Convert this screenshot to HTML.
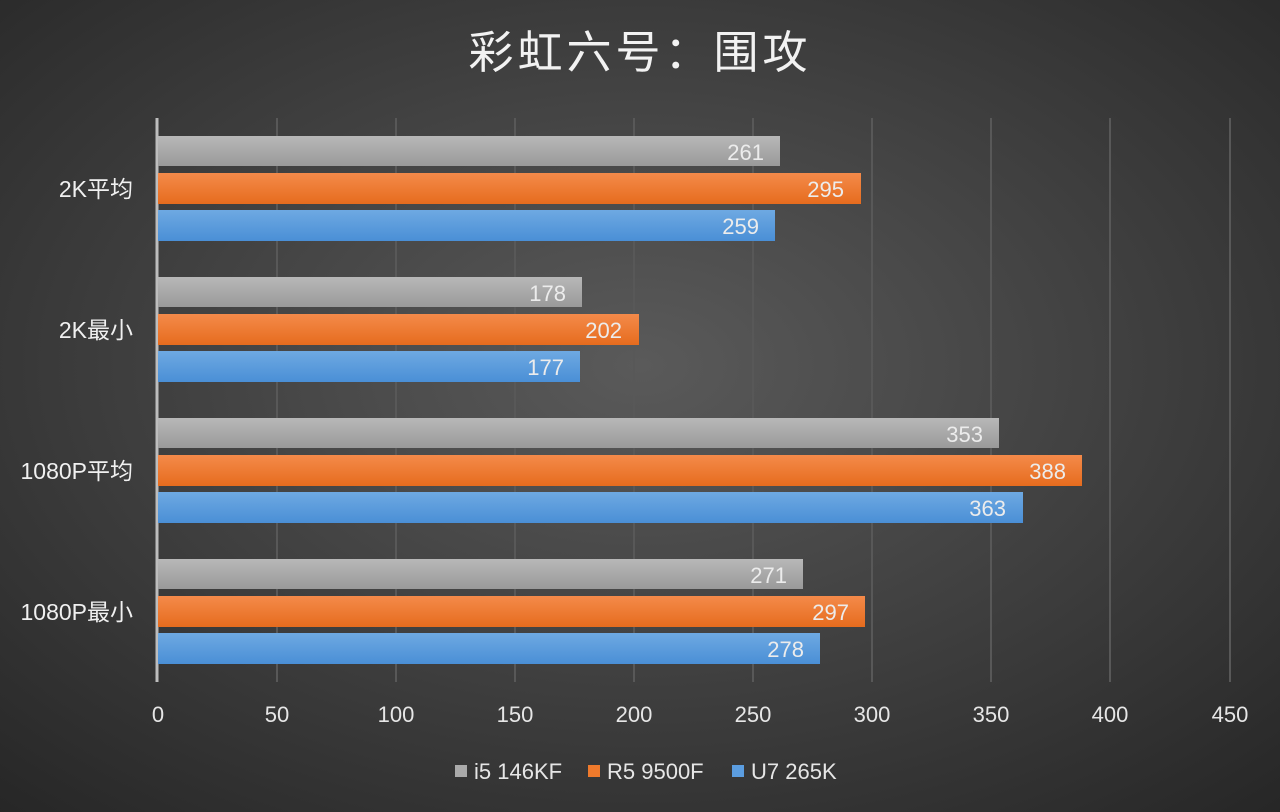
<!DOCTYPE html><html><head><meta charset="utf-8"><style>body{margin:0}svg{display:block}text{font-family:"Liberation Sans","Noto Sans CJK SC",sans-serif}</style></head><body>
<svg width="1280" height="812" xmlns="http://www.w3.org/2000/svg">
<defs>
<radialGradient id="bg" cx="50%" cy="45%" r="75%"><stop offset="0" stop-color="#5a5a5a"/><stop offset="1" stop-color="#262626"/></radialGradient>
<linearGradient id="g" x1="0" y1="0" x2="0" y2="1"><stop offset="0" stop-color="#b8b8b8"/><stop offset="1" stop-color="#9a9a9a"/></linearGradient>
<linearGradient id="o" x1="0" y1="0" x2="0" y2="1"><stop offset="0" stop-color="#f48a4a"/><stop offset="1" stop-color="#e66c1e"/></linearGradient>
<linearGradient id="b" x1="0" y1="0" x2="0" y2="1"><stop offset="0" stop-color="#6ea9e2"/><stop offset="1" stop-color="#4a8fd6"/></linearGradient>
</defs>
<rect width="1280" height="812" fill="url(#bg)"/>
<text x="640" y="68" font-size="45" fill="#f2f2f2" text-anchor="middle" letter-spacing="4">彩虹六号：围攻</text>
<g stroke="#585858" stroke-width="2">
<line x1="277" y1="118" x2="277" y2="682"/><line x1="396" y1="118" x2="396" y2="682"/><line x1="515" y1="118" x2="515" y2="682"/><line x1="634" y1="118" x2="634" y2="682"/><line x1="753" y1="118" x2="753" y2="682"/><line x1="872" y1="118" x2="872" y2="682"/><line x1="991" y1="118" x2="991" y2="682"/><line x1="1110" y1="118" x2="1110" y2="682"/><line x1="1230" y1="118" x2="1230" y2="682"/>
</g>
<line x1="157" y1="118" x2="157" y2="682" stroke="#bdbdbd" stroke-width="3"/>
<g font-size="23" fill="#f0f0f0" text-anchor="end">
<text x="133" y="197">2K平均</text><text x="133" y="338">2K最小</text><text x="133" y="479">1080P平均</text><text x="133" y="620">1080P最小</text>
</g>
<g font-size="22" fill="#e6e6e6" text-anchor="middle">
<text x="158" y="722">0</text><text x="277" y="722">50</text><text x="396" y="722">100</text><text x="515" y="722">150</text><text x="634" y="722">200</text><text x="753" y="722">250</text><text x="872" y="722">300</text><text x="991" y="722">350</text><text x="1110" y="722">400</text><text x="1230" y="722">450</text>
</g>
<g>
<rect x="158" y="136" width="622" height="30" fill="url(#g)"/><rect x="158" y="173" width="703" height="31" fill="url(#o)"/><rect x="158" y="210" width="617" height="31" fill="url(#b)"/>
<rect x="158" y="277" width="424" height="30" fill="url(#g)"/><rect x="158" y="314" width="481" height="31" fill="url(#o)"/><rect x="158" y="351" width="422" height="31" fill="url(#b)"/>
<rect x="158" y="418" width="841" height="30" fill="url(#g)"/><rect x="158" y="455" width="924" height="31" fill="url(#o)"/><rect x="158" y="492" width="865" height="31" fill="url(#b)"/>
<rect x="158" y="559" width="645" height="30" fill="url(#g)"/><rect x="158" y="596" width="707" height="31" fill="url(#o)"/><rect x="158" y="633" width="662" height="31" fill="url(#b)"/>
</g>
<g font-size="22" fill="#ececec" text-anchor="end">
<text x="764" y="160">261</text><text x="844" y="197">295</text><text x="759" y="234">259</text>
<text x="566" y="301">178</text><text x="622" y="338">202</text><text x="564" y="375">177</text>
<text x="983" y="442">353</text><text x="1066" y="479">388</text><text x="1006" y="516">363</text>
<text x="787" y="583">271</text><text x="849" y="620">297</text><text x="804" y="657">278</text>
</g>
<g font-size="22" fill="#e6e6e6">
<rect x="455" y="765" width="12" height="12" fill="#aaa"/><text x="474" y="779">i5 146KF</text>
<rect x="588" y="765" width="12" height="12" fill="#ef7a2c"/><text x="607" y="779">R5 9500F</text>
<rect x="732" y="765" width="12" height="12" fill="#5b9de0"/><text x="751" y="779">U7 265K</text>
</g>
</svg></body></html>
